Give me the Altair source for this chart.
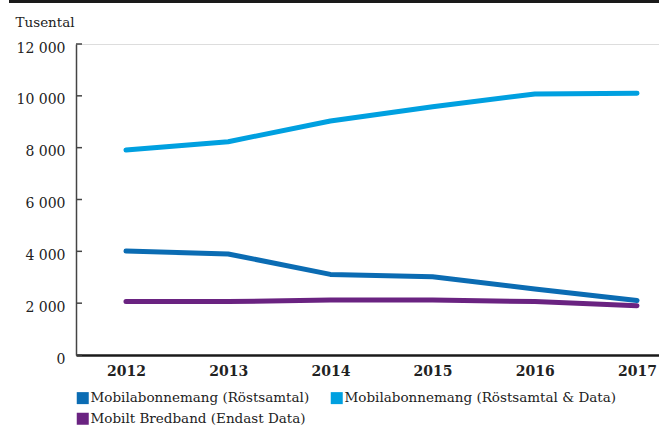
import altair as alt
import pandas as pd

years = [2012, 2013, 2014, 2015, 2016, 2017]
series_names = [
    "Mobilabonnemang (Röstsamtal)",
    "Mobilabonnemang (Röstsamtal & Data)",
    "Mobilt Bredband (Endast Data)",
]
rost = [4010, 3900, 3110, 3020, 2550, 2100]
rost_data = [7910, 8230, 9030, 9580, 10070, 10100]
bredband = [2060, 2060, 2120, 2120, 2060, 1900]
colors = ["#0b6cb3", "#00a0e0", "#6a2381"]
y_ticks = [0, 2000, 4000, 6000, 8000, 10000, 12000]

rows = []
for name, vals in zip(series_names, [rost, rost_data, bredband]):
    for yr, v in zip(years, vals):
        rows.append({"Year": yr, "Serie": name, "Value": v})
df = pd.DataFrame(rows)

FONT = "DejaVu Serif"
W, H = 583, 311

xscale = alt.Scale(domain=[2011.511, 2017.215], nice=False, zero=False)
yscale = alt.Scale(domain=[0, 12000], nice=False)

color_enc = alt.Color(
    "Serie:N",
    scale=alt.Scale(domain=series_names, range=colors),
    legend=alt.Legend(
        title=None, orient="none", legendX=0, legendY=347, direction="horizontal",
        columns=2, columnPadding=20, rowPadding=6,
        symbolType="square", symbolSize=144, symbolStrokeWidth=0, symbolOpacity=1,
        labelFont=FONT, labelFontSize=13.5, labelColor="#222",
        labelOffset=1, labelLimit=400,
    ),
)

x_enc = alt.X("Year:Q", scale=xscale,
              axis=alt.Axis(values=years, format="d", title=None, grid=False, ticks=False,
                            domainColor="#1a1a1a", domainWidth=2.5,
                            labelFont=FONT, labelFontWeight="bold", labelFontSize=14,
                            labelColor="#222", labelPadding=9, labelBaseline="top"))
y_enc = alt.Y("Value:Q", scale=yscale,
              axis=alt.Axis(values=y_ticks, format=",d", labelExpr="replace(datum.label, ',', ' ')",
                            title="Tusental", titleAngle=0, titleX=-61, titleY=-18,
                            titleAlign="left", titleBaseline="alphabetic",
                            titleFont=FONT, titleFontWeight="normal", titleFontSize=13.5,
                            titleColor="#222",
                            grid=False, ticks=False, domainColor="#444", domainWidth=1.5,
                            labelFont=FONT, labelFontSize=14, labelColor="#222",
                            labelPadding=11, labelOffset=4))

lines = alt.Chart(df).mark_line(strokeWidth=5, strokeCap="round", strokeJoin="round").encode(
    x=x_enc, y=y_enc, color=color_enc,
)

# invisible filled squares so the legend shows filled square swatches
squares = alt.Chart(df).mark_point(shape="square", filled=True, size=0, opacity=1).encode(
    x=alt.X("Year:Q", scale=xscale), y=alt.Y("Value:Q", scale=yscale), color=color_enc,
)

tick_df = pd.DataFrame({"v": y_ticks})
ticks = alt.Chart(tick_df).mark_rule(color="#444", strokeWidth=1.5).encode(
    x=alt.value(0), x2=alt.value(6), y=alt.Y("v:Q", scale=yscale)
)

top_bar = alt.Chart(pd.DataFrame({"a": [0]})).mark_rule(color="#1a1a1a", strokeWidth=3).encode(
    x=alt.value(-67), x2=alt.value(W), y=alt.value(-42.5)
)

chart = alt.layer(lines, squares, ticks, top_bar).properties(
    width=W, height=H,
    autosize=alt.AutoSizeParams(type="none"),
    padding={"left": 76, "top": 44, "right": 0, "bottom": 70},
).configure_view(stroke=None).configure(
    background="white", font=FONT
).configure_legend(labelFont=FONT).configure_axis(labelFont=FONT, titleFont=FONT)

chart.save("out.html", embed_options={"renderer": "svg", "actions": False})
